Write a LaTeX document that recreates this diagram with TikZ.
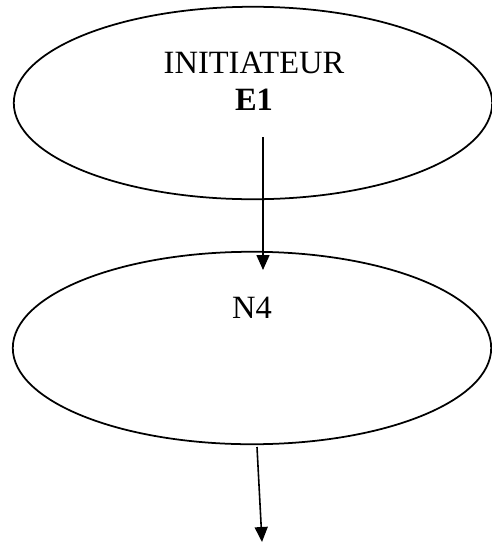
\documentclass[tikz,border=0pt]{standalone}
\usepackage{fontspec}
\setmainfont{Liberation Serif}
\usetikzlibrary{shapes.geometric,arrows.meta}
\tikzset{
  bulle/.style={ellipse,draw,line width=1pt,inner sep=0pt,minimum width=9.57cm,minimum height=3.85cm},
  fleche/.style={line width=0.9pt,-{Triangle[length=0.3cm,width=0.26cm]}},
  texte/.style={anchor=base,inner sep=0pt,font=\fontsize{18.5}{21}\selectfont}
}
\begin{document}
\begin{tikzpicture}[x=0.02cm,y=-0.02cm]
    \useasboundingbox (0,0) rectangle (492,542);
    \node[bulle](e1) at (253,103) {};
    \node[bulle](n4) at (252,348) {};
    \node[texte](ini) at (254,73) {INITIATEUR};
    \node[texte](num) at (254,110) {\textbf{E1}};
    \node[texte](nom) at (252,318) {N4};
    \coordinate (d1) at (263,137);
    \coordinate (f1) at (263,270);
    \coordinate (d2) at (257,447);
    \coordinate (f2) at (262,542);
    \draw[fleche] (d1)--(f1);
    \draw[fleche] (d2)--(f2);
\end{tikzpicture}
\end{document}
